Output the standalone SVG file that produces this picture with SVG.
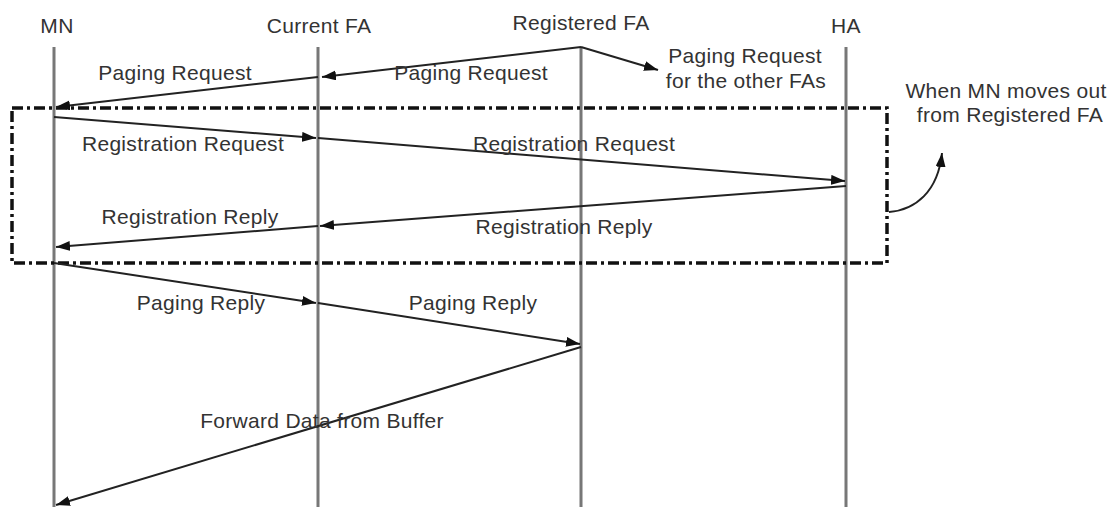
<svg xmlns="http://www.w3.org/2000/svg" width="1113" height="507" viewBox="0 0 1113 507">
  <style>
    text { font-family: "Liberation Sans", Arial, sans-serif; font-size: 21px; fill: #333; letter-spacing: 0.3px; text-anchor: middle; }
    .life { stroke: #777; stroke-width: 3; }
    .msg { stroke: #222; stroke-width: 2; fill: none; marker-end: url(#head); }
    .zone { stroke: #111; stroke-width: 3.5; fill: none; stroke-dasharray: 11 4 3 4; }
  </style>
  <defs>
    <marker id="head" markerUnits="userSpaceOnUse" markerWidth="15" markerHeight="11" refX="14" refY="5" orient="auto">
      <path d="M0,0 L14,5 L0,10 Z" fill="#111"/>
    </marker>
  </defs>
  <rect width="1113" height="507" fill="#fff"/>

  <!-- lifelines with their titles -->
  <g id="mn">
    <line class="life" x1="54" y1="47" x2="54" y2="507"/>
    <text x="57" y="33">MN</text>
  </g>
  <g id="current-fa">
    <line class="life" x1="318" y1="47" x2="318" y2="507"/>
    <text x="319" y="33">Current FA</text>
  </g>
  <g id="registered-fa">
    <line class="life" x1="581" y1="47" x2="581" y2="507"/>
    <text x="581" y="30">Registered FA</text>
  </g>
  <g id="ha">
    <line class="life" x1="846" y1="47" x2="846" y2="507"/>
    <text x="846" y="33">HA</text>
  </g>

  <!-- hand-off region -->
  <g id="moveout-zone">
    <rect class="zone" x="12" y="108" width="875" height="155"/>
    <text x="1006" y="98">When MN moves out</text>
    <text x="1010" y="122">from Registered FA</text>
  </g>

  <!-- messages -->
  <g id="connectors">
    <line class="msg" x1="581" y1="47" x2="322" y2="77"/>
    <line class="msg" x1="318" y1="77" x2="56" y2="107"/>
    <line class="msg" x1="581" y1="47" x2="658" y2="70"/>

    <line class="msg" x1="54" y1="117" x2="316" y2="138"/>
    <line class="msg" x1="318" y1="138" x2="845" y2="181"/>

    <line class="msg" x1="846" y1="186" x2="320" y2="226"/>
    <line class="msg" x1="318" y1="226" x2="56" y2="247"/>

    <line class="msg" x1="54" y1="263" x2="316" y2="303"/>
    <line class="msg" x1="318" y1="303" x2="580" y2="344"/>

    <line class="msg" x1="581" y1="347" x2="56" y2="505"/>

    <path class="msg" d="M889 212 C915 210 938 192 942 153"/>
  </g>

  <!-- message labels -->
  <g id="labels">
    <text x="175" y="80">Paging Request</text>
    <text x="471" y="80">Paging Request</text>
    <text x="745" y="63">Paging Request</text>
    <text x="746" y="88">for the other FAs</text>
    <text x="183" y="151">Registration Request</text>
    <text x="574" y="151">Registration Request</text>
    <text x="190" y="224">Registration Reply</text>
    <text x="564" y="234">Registration Reply</text>
    <text x="201" y="310">Paging Reply</text>
    <text x="473" y="310">Paging Reply</text>
    <text x="322" y="428">Forward Data from Buffer</text>
  </g>
</svg>
